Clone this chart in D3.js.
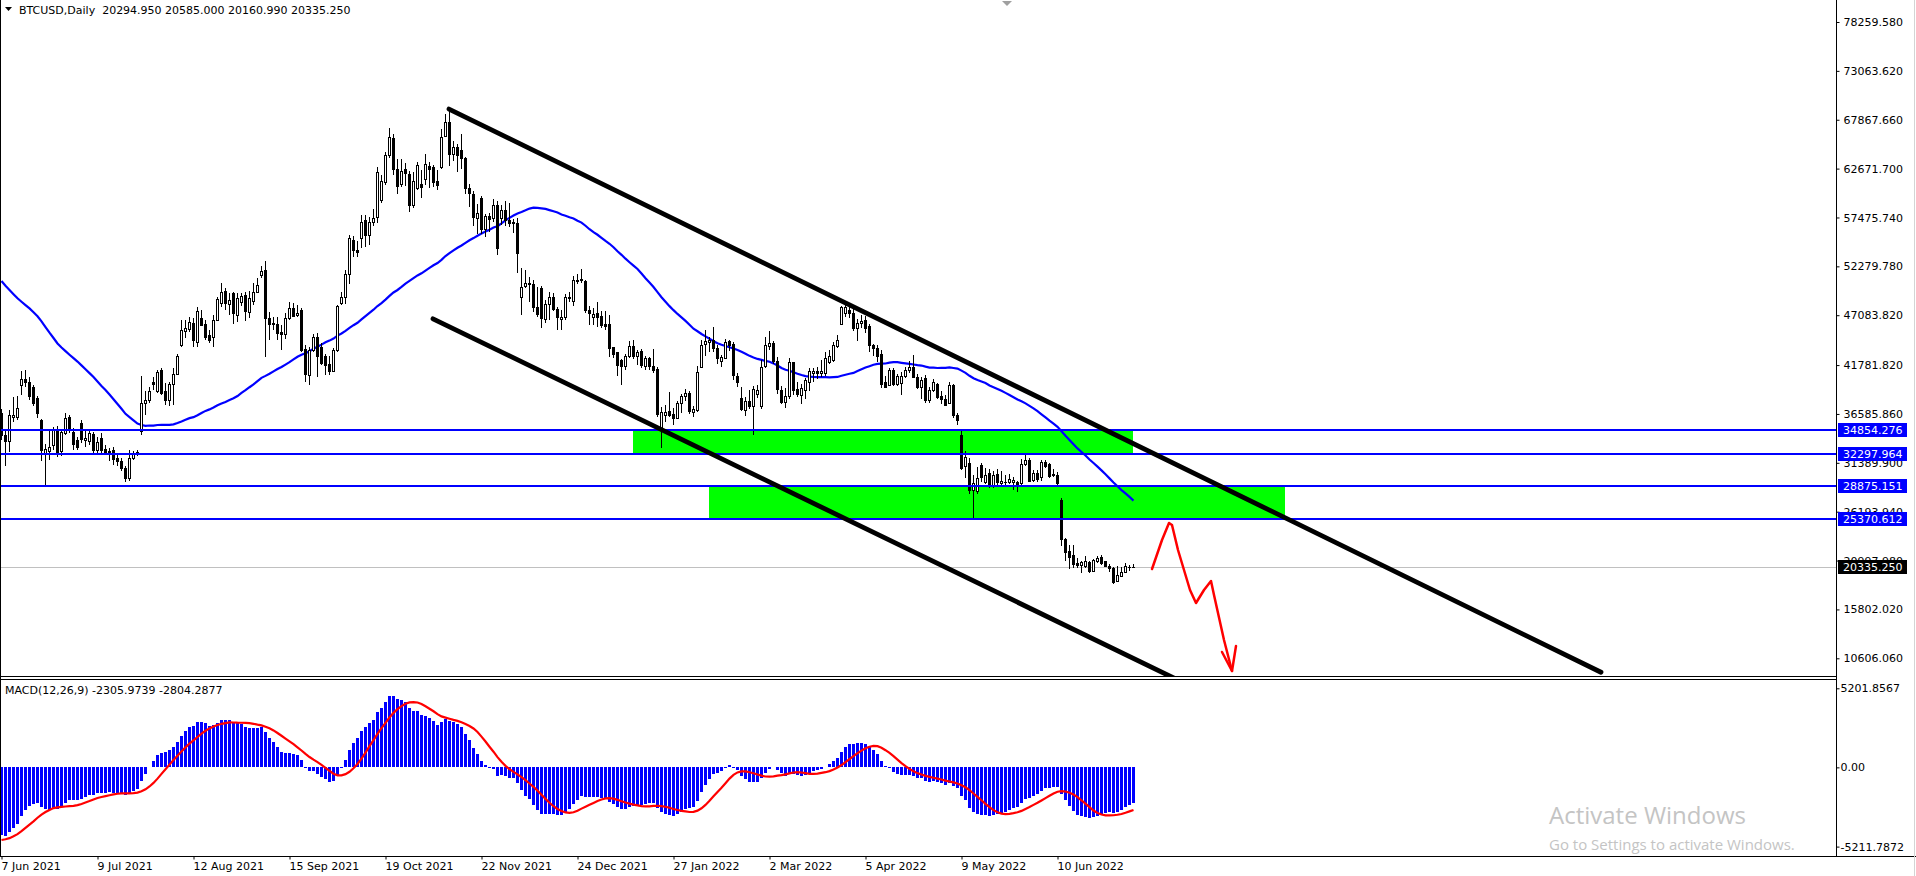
<!DOCTYPE html>
<html>
<head>
<meta charset="utf-8">
<script src="https://cdnjs.cloudflare.com/ajax/libs/d3/7.8.5/d3.min.js"></script>
<style>
  body { margin: 0; background: #fff; }
  svg { display: block; font-family: "DejaVu Sans", sans-serif; font-size: 11px; }
</style>
</head>
<body>
<svg id="chart" width="1916" height="876"></svg>
<script>
// BTCUSD daily (weekday bars), prices in thousands of USD, bar 0 = 7 Jun 2021
const opens = [
  36.7,34.3,33.7,36.3,36.3,39.7,40.3,40.0,39.5,38.3, 35.9,32.4,32.6,33.3,34.8,32.6,34.6,36.3,34.7,33.8,
  35.6,33.8,33.7,34.5,32.8,34.0,32.9,32.5,32.8,31.9, 31.6,30.8,29.8,31.9,32.3,34.8,37.8,38.1,40.0,39.0,
  41.3,39.0,38.1,39.8,40.8,43.9,45.4,45.6,46.3,44.2, 46.8,46.1,45.0,44.8,46.6,48.4,49.7,48.3,49.4,47.1,
  48.5,49.2,47.4,48.6,49.6,51.4,51.9,46.8,46.3,46.1, 45.3,45.1,46.8,47.9,47.1,47.6,43.5,40.7,43.4,44.8,
  43.7,42.7,41.9,41.2,43.4,48.4,49.0,51.5,55.1,54.0, 55.3,57.2,55.6,57.0,57.5,59.3,61.3,64.1,65.9,62.6,
  61.0,62.6,62.1,58.8,60.6,61.0,61.6,62.9,62.8,61.4, 62.8,66.1,67.6,64.2,65.0,64.7,63.8,60.6,60.0,57.4,
  59.5,56.3,57.6,57.4,58.8,57.4,58.3,57.2,57.0,56.9, 49.0,50.2,50.4,50.4,48.0,50.0,46.7,48.3,49.0,47.7,
  46.7,46.9,49.0,48.6,50.8,50.8,50.7,47.6,46.9,47.3, 47.0,46.1,46.1,43.7,43.2,42.3,41.7,42.7,43.8,42.8,
  43.3,41.7,42.5,41.7,41.4,35.1,36.5,36.9,36.6,36.2, 37.7,38.5,38.8,36.8,37.0,41.6,44.0,44.2,44.4,43.6,
  42.2,42.5,44.3,44.0,40.6,38.3,37.0,38.0,37.4,38.7, 37.4,41.7,43.8,44.1,42.2,39.1,37.9,38.5,42.1,39.2,
  38.6,39.1,40.0,40.9,41.2,40.9,40.9,42.1,42.3,43.8, 46.2,47.3,47.6,47.3,45.7,46.3,46.6,45.9,43.9,43.6,
  43.0,40.0,39.7,41.3,39.8,39.9,40.6,41.3,41.6,40.5, 39.5,40.4,38.1,39.1,39.8,38.5,38.2,37.7,39.7,36.5,
  34.3,31.0,31.4,28.5,28.4,31.2,29.3,30.3,29.0,30.2, 29.2,29.3,29.3,29.4,29.4,29.2,31.3,31.7,29.6,30.3,
  29.9,31.5,31.3,30.2,30.1,27.4,23.3,22.0,21.6,20.7, 20.5,20.4,20.8,19.9,20.9,21.4,20.9,20.4,20.2,18.8,
  19.4,19.8,20.3,20.29495
];
const highs = [
  37.1,34.8,37.0,38.4,38.5,41.2,41.3,40.5,39.7,38.5, 36.0,33.4,34.9,35.2,35.3,34.8,36.7,36.5,35.1,34.1,
  35.9,35.0,35.0,34.7,34.1,34.6,33.3,33.0,33.1,32.2, 31.9,31.0,32.8,32.6,32.8,40.6,39.0,39.5,40.5,41.3,
  41.5,39.9,40.0,41.5,43.0,46.6,46.6,46.9,46.8,48.0, 47.6,46.6,45.5,47.1,49.0,50.5,50.0,49.4,49.6,49.4,
  49.4,49.6,49.7,50.5,51.0,52.3,52.9,47.4,46.9,46.9, 46.0,47.3,48.5,48.4,48.2,47.8,43.9,43.7,45.1,45.2,
  44.1,43.0,42.7,43.6,48.2,49.6,51.9,55.6,55.5,55.0, 57.7,57.7,57.5,58.4,62.8,62.0,64.4,67.0,66.4,63.7,
  63.7,63.3,62.4,62.3,63.4,62.5,64.2,63.4,63.1,62.5, 66.9,68.5,69.0,65.6,65.3,66.4,63.9,61.0,60.3,58.9,
  59.8,57.8,57.9,59.4,59.2,58.8,59.2,59.0,57.3,57.4, 52.1,51.9,51.1,50.8,50.1,50.2,48.7,49.5,49.4,48.0,
  47.6,49.3,49.6,51.3,51.5,52.0,50.8,48.1,47.9,48.5, 47.5,47.5,47.1,43.7,43.2,42.4,43.0,44.3,44.4,43.4,
  43.5,42.7,42.6,43.5,41.6,37.3,37.5,38.9,37.2,38.0, 38.7,39.2,39.0,37.4,41.7,44.5,45.5,44.8,45.8,43.9,
  42.9,44.6,44.5,44.2,40.9,39.4,38.4,39.1,39.6,39.7, 42.3,44.8,45.4,44.3,42.6,39.6,39.3,42.5,42.1,40.0,
  39.8,40.4,41.5,41.5,41.6,42.3,43.2,43.4,44.2,45.0, 48.1,48.6,48.1,47.7,46.7,47.1,47.0,46.1,44.0,43.9,
  43.4,40.6,41.5,41.5,40.8,41.0,41.6,42.2,42.9,40.8, 40.5,40.7,39.4,40.3,39.9,39.0,38.6,40.0,39.8,36.7,
  34.8,32.6,31.9,30.1,30.9,31.4,30.8,30.7,30.5,30.7, 30.5,30.1,30.2,29.9,29.5,31.8,32.3,31.9,30.6,30.6,
  31.7,31.7,31.4,30.7,30.4,27.6,23.4,22.6,22.7,21.3, 21.0,21.5,20.9,21.2,21.5,21.6,21.0,20.6,20.3,20.4,
  20.3,20.7,20.5,20.585
];
const lows = [
  33.8,31.0,32.5,35.7,35.9,38.6,39.5,38.1,37.4,36.2, 31.6,28.85,31.7,32.8,32.0,32.1,34.3,34.6,32.8,32.8,
  33.5,33.1,33.3,32.2,32.3,32.4,32.2,31.6,31.2,31.1, 30.5,29.3,29.5,31.7,32.1,34.3,36.5,37.8,39.1,38.8,
  38.6,37.5,37.4,37.5,40.7,43.7,44.7,45.3,43.7,43.7, 45.9,44.4,44.1,43.7,46.5,48.0,47.6,47.1,46.2,46.4,
  48.1,46.5,46.8,48.2,49.4,51.0,42.6,44.4,45.5,44.5, 43.4,44.6,46.6,46.9,46.9,43.2,40.0,39.7,43.2,40.5,
  41.8,40.7,40.7,41.1,43.2,48.2,48.3,50.4,53.3,53.3, 54.2,54.3,54.5,56.6,56.9,59.0,60.9,63.8,62.0,60.0,
  60.7,60.8,58.1,58.5,60.4,59.5,60.9,60.6,60.7,60.4, 62.6,66.0,62.9,63.5,62.3,62.6,60.0,58.6,56.6,55.7,
  55.7,55.4,55.9,57.0,53.5,56.7,56.6,56.5,55.8,51.6, 47.1,50.0,48.5,47.4,46.9,45.7,46.3,46.6,47.5,45.5,
  45.5,46.6,48.5,48.1,50.4,50.5,47.3,46.0,46.0,45.8, 45.7,45.5,42.6,42.5,40.6,39.7,41.3,42.5,42.4,41.8,
  41.5,41.3,41.3,40.9,36.3,33.0,35.7,36.3,35.4,36.1, 36.7,38.0,36.6,36.3,36.8,41.5,42.7,43.2,43.2,41.9,
  41.6,42.5,43.3,40.2,39.5,36.9,36.4,37.1,34.3,38.3, 37.1,41.5,43.4,41.9,38.7,37.6,37.2,38.2,38.6,38.4,
  37.6,38.2,39.0,40.0,40.3,40.5,40.6,41.9,42.1,43.6, 46.0,46.9,46.8,45.4,44.3,45.7,45.2,43.2,42.8,42.1,
  39.3,39.3,39.6,39.6,39.6,38.6,40.4,40.9,40.4,39.2, 38.2,37.8,37.7,38.9,38.2,37.6,37.4,37.6,36.2,35.4,
  30.6,29.8,28.1,25.3,28.1,29.4,29.1,28.7,28.7,28.8, 28.9,28.9,29.1,28.5,28.3,29.0,31.1,29.4,29.4,29.3,
  29.5,30.8,29.8,29.9,28.9,22.5,20.9,20.1,20.2,20.2, 19.7,20.2,19.7,19.8,20.7,20.5,20.3,19.8,18.5,18.7,
  19.2,19.7,19.9,20.16099
];
const closes = [
  34.3,33.7,36.5,36.5,37.2,40.3,40.0,38.5,37.8,36.7, 32.8,32.9,33.1,34.9,32.4,34.7,36.2,34.9,33.4,33.1,
  33.9,34.0,34.6,32.8,33.6,32.8,32.5,32.7,31.8,31.6, 30.8,29.8,31.9,32.3,32.5,37.7,38.1,39.0,39.8,41.0,
  38.8,38.1,39.8,40.8,42.7,45.5,45.7,46.4,44.4,47.5, 46.0,44.8,44.4,46.6,48.8,49.5,48.4,48.7,47.3,48.9,
  49.1,47.5,48.9,49.6,50.3,51.8,46.8,46.2,46.1,45.2, 45.1,46.8,47.9,47.0,47.3,43.4,40.8,43.4,44.8,42.7,
  42.0,41.8,41.2,43.4,48.1,49.0,51.5,55.3,54.0,53.8, 57.0,55.6,57.0,57.4,62.3,61.4,64.1,66.0,62.6,60.8,
  62.4,62.2,58.8,61.4,63.1,60.7,63.2,62.6,61.3,60.9, 66.0,67.6,64.2,65.0,64.1,63.8,60.6,60.1,57.5,58.0,
  56.3,57.6,57.3,58.8,54.2,58.3,57.2,56.9,56.9,53.7, 50.1,50.5,50.5,48.0,47.2,46.8,48.3,49.0,47.7,46.9,
  46.9,49.0,48.9,50.8,50.7,50.9,47.6,47.3,47.2,46.9, 46.0,45.9,43.6,43.0,41.8,41.7,42.7,43.8,42.8,43.2,
  41.8,42.5,41.7,41.3,36.6,36.8,36.8,36.5,36.2,37.8, 38.5,38.8,36.9,37.1,41.0,43.9,44.3,44.4,43.6,42.5,
  42.6,44.2,43.9,40.7,40.0,37.1,38.0,37.4,39.2,39.1, 41.6,43.9,44.1,42.2,39.2,37.9,38.5,42.1,39.1,38.7,
  39.3,40.2,41.1,41.2,40.9,41.2,42.5,42.7,43.9,44.4, 48.0,48.0,47.3,45.7,46.3,46.5,45.7,43.9,43.6,42.7,
  39.8,39.5,41.3,39.8,40.6,40.6,41.3,41.6,40.5,39.5, 40.2,38.1,39.1,40.0,38.4,38.2,37.5,39.7,36.5,35.9,
  30.8,32.0,28.5,29.2,29.8,29.9,30.1,29.0,30.1,29.3, 29.5,29.4,29.7,29.6,28.9,31.3,31.7,29.5,30.3,29.7,
  31.5,31.1,30.0,30.1,29.2,23.3,21.9,21.4,20.6,20.5, 20.8,21.0,19.9,21.1,21.3,20.7,20.4,20.2,18.7,19.5,
  19.8,20.4,20.35,20.33525
];
// closes of the 50 weekdays before bar 0 (29 Mar - 4 Jun 2021), used by the indicators
const earlierCloses = [
  57.6,58.8,58.9,59.0,59.1, 58.7,57.8,56.0,58.0,58.1, 59.8,63.5,62.9,63.2,61.4, 56.2,55.7,53.8,51.7,51.1,
  54.0,55.0,54.9,53.6,57.8, 56.6,53.0,57.4,56.4,57.4, 56.0,56.7,49.2,49.7,49.9, 45.0,43.0,36.7,40.8,37.3,
  38.4,38.0,39.3,38.4,35.7, 37.3,36.7,37.6,39.2,36.9
];

const priceTicks = [78259.58,73063.62,67867.66,62671.70,57475.74,52279.78,47083.82,41781.82,36585.86,31389.90,26193.94,20997.98,15802.02,10606.06];
const macdTicks = [5201.8567, 0, -5211.7872];
const macdTickLabels = ["5201.8567", "0.00", "-5211.7872"];
const dateBars = [0,24,48,72,96,120,144,168,192,216,240,264];
const dateLabels = ["7 Jun 2021","9 Jul 2021","12 Aug 2021","15 Sep 2021","19 Oct 2021","22 Nov 2021","24 Dec 2021","27 Jan 2022","2 Mar 2022","5 Apr 2022","9 May 2022","10 Jun 2022"];

const levels = [34854.276, 32297.964, 28875.151, 25370.612];
const lastPrice = 20335.25;
// zones: [from bar, to bar, upper price, lower price]
const zones = [[158, 283, 34854.276, 32297.964], [177, 321, 28875.151, 25370.612]];
// trend rays: [bar1, price1, bar2, price2]
const trendLines = [[112, 69000, 400, 9125], [108, 46700, 300, 7110]];
// hand drawn red sketch
const sketchBars   = [287.75, 290.25, 292.0, 292.75, 294.25, 297.25, 298.75, 300.75, 302.5, 303.25, 305.75, 307.75];
const sketchPrices = [20103, 23186, 24994, 24781, 22121, 17868, 16486, 17868, 18825, 17336, 12554, 9258];
const arrowBars = [305.25, 307.75, 308.75];
const arrowPrices = [11278, 9258, 11916];

const K = 1000;
const W = 1916, H = 876;
const axisX = 1836;
const mainBottom = 676, macdTop = 679, macdBottom = 856;

const svg = d3.select("#chart");
const x = d3.scaleLinear().domain([0, 264]).range([1, 1057]);
const y = d3.scaleLinear().domain([10606.06, 78259.58]).range([658.3, 22]);
const yM = d3.scaleLinear().domain([-5211.7872, 5201.8567]).range([846.6, 688.3]);

// indicators
const allCloses = earlierCloses.concat(closes).map(v => v * K);
const off = earlierCloses.length;
const ma = closes.map((_, i) => d3.mean(allCloses.slice(off + i - 49, off + i + 1)));
function ema(vals, n) {
  const k = 2 / (n + 1);
  let e;
  return vals.map((v, i) => e = i ? v * k + e * (1 - k) : v);
}
const e12 = ema(allCloses, 12), e26 = ema(allCloses, 26);
const macdAll = allCloses.map((_, j) => e12[j] - e26[j]);
const signalAll = macdAll.map((_, j) => j < 8 ? null : d3.mean(macdAll.slice(j - 8, j + 1)));
const macd = macdAll.slice(off), signal = signalAll.slice(off);

const bars = closes.map((c, i) => ({ i, o: opens[i] * K, h: highs[i] * K, l: lows[i] * K, c: c * K }));

svg.append("rect").attr("width", W).attr("height", H).attr("fill", "#fff");

svg.append("clipPath").attr("id", "mainClip")
  .append("rect").attr("x", 0).attr("y", 0).attr("width", axisX).attr("height", mainBottom);
svg.append("clipPath").attr("id", "macdClip")
  .append("rect").attr("x", 0).attr("y", macdTop).attr("width", axisX).attr("height", macdBottom - macdTop);

const main = svg.append("g").attr("clip-path", "url(#mainClip)");

// green zones
main.selectAll("rect.zone").data(zones).join("rect")
  .attr("x", d => x(d[0])).attr("width", d => x(d[1]) - x(d[0]))
  .attr("y", d => y(d[2])).attr("height", d => y(d[3]) - y(d[2]))
  .attr("fill", "#00ff00");

// current price line
main.append("line")
  .attr("x1", 0).attr("x2", axisX)
  .attr("y1", Math.round(y(lastPrice)) + 0.5).attr("y2", Math.round(y(lastPrice)) + 0.5)
  .attr("stroke", "#c0c0c0").attr("stroke-width", 1);

// moving average
main.append("path").datum(ma)
  .attr("d", d3.line().x((d, i) => x(i) + 0.5).y(d => y(d)))
  .attr("fill", "none").attr("stroke", "#0000ff").attr("stroke-width", 2.2);

// candles
const cg = main.append("g").attr("shape-rendering", "crispEdges");
cg.selectAll("line.wick").data(bars).join("line")
  .attr("x1", d => x(d.i) + 0.5).attr("x2", d => x(d.i) + 0.5)
  .attr("y1", d => y(d.h)).attr("y2", d => y(d.l))
  .attr("stroke", "#000").attr("stroke-width", 1);
cg.selectAll("rect.body").data(bars).join("rect")
  .attr("x", d => x(d.i) - 0.5).attr("width", 2)
  .attr("y", d => Math.round(y(Math.max(d.o, d.c))) + 0.5)
  .attr("height", d => Math.max(0.01, Math.round(y(Math.min(d.o, d.c))) - Math.round(y(Math.max(d.o, d.c)))))
  .attr("fill", d => d.c >= d.o ? "#fff" : "#000")
  .attr("stroke", "#000").attr("stroke-width", 1);

// horizontal levels
main.selectAll("line.level").data(levels).join("line")
  .attr("x1", 0).attr("x2", axisX)
  .attr("y1", d => Math.round(y(d))).attr("y2", d => Math.round(y(d)))
  .attr("stroke", "#0000ff").attr("stroke-width", 2);

// trend rays
main.selectAll("line.trend").data(trendLines).join("line")
  .attr("x1", d => x(d[0])).attr("y1", d => y(d[1]))
  .attr("x2", d => x(d[2])).attr("y2", d => y(d[3]))
  .attr("stroke", "#000").attr("stroke-width", 4.8).attr("stroke-linecap", "round");

// red sketch
const sk = d3.line().x(d => x(d[0])).y(d => y(d[1]));
main.append("path").datum(sketchBars.map((b, i) => [b, sketchPrices[i]]))
  .attr("d", sk).attr("fill", "none").attr("stroke", "#ff0000").attr("stroke-width", 2.5)
  .attr("stroke-linejoin", "round").attr("stroke-linecap", "round");
main.append("path").datum(arrowBars.map((b, i) => [b, arrowPrices[i]]))
  .attr("d", sk).attr("fill", "none").attr("stroke", "#ff0000").attr("stroke-width", 2.5)
  .attr("stroke-linejoin", "round").attr("stroke-linecap", "round");

// MACD panel
const mg = svg.append("g").attr("clip-path", "url(#macdClip)");
mg.append("g").attr("shape-rendering", "crispEdges")
  .selectAll("rect").data(macd).join("rect")
  .attr("x", (d, i) => x(i) - 1).attr("width", 3)
  .attr("y", d => Math.min(yM(d), yM(0))).attr("height", d => Math.abs(yM(d) - yM(0)))
  .attr("fill", "#0000ff");
mg.append("path").datum(signal)
  .attr("d", d3.line().defined(d => d != null).x((d, i) => x(i) + 0.5).y(d => yM(d)))
  .attr("fill", "none").attr("stroke", "#ff0000").attr("stroke-width", 2.2);

// frames
const fr = svg.append("g").attr("stroke", "#000").attr("stroke-width", 1).attr("shape-rendering", "crispEdges");
fr.append("line").attr("x1", 0.5).attr("x2", 0.5).attr("y1", 0).attr("y2", macdBottom);
fr.append("line").attr("x1", axisX + 0.5).attr("x2", axisX + 0.5).attr("y1", 0).attr("y2", macdBottom);
fr.append("line").attr("x1", 0).attr("x2", axisX).attr("y1", mainBottom + 0.5).attr("y2", mainBottom + 0.5);
fr.append("line").attr("x1", 0).attr("x2", axisX).attr("y1", macdTop + 0.5).attr("y2", macdTop + 0.5);
fr.append("line").attr("x1", 0).attr("x2", W).attr("y1", macdBottom + 0.5).attr("y2", macdBottom + 0.5);
svg.append("line").attr("x1", W - 1.5).attr("x2", W - 1.5).attr("y1", 0).attr("y2", H)
  .attr("stroke", "#d4d4d4").attr("stroke-width", 1).attr("shape-rendering", "crispEdges");

// price axis
const pa = svg.append("g").attr("transform", `translate(${axisX + 0.5},0)`)
  .call(d3.axisRight(y).tickValues(priceTicks).tickSize(3).tickPadding(4).tickFormat(d => d.toFixed(3)));
pa.select(".domain").remove();
pa.selectAll("text").attr("font-family", "DejaVu Sans").attr("font-size", 11).attr("fill", "#000");

// MACD axis
const ma2 = svg.append("g").attr("transform", `translate(${axisX + 0.5},0)`)
  .call(d3.axisRight(yM).tickValues(macdTicks).tickSize(3).tickPadding(1).tickFormat((d, i) => macdTickLabels[i]));
ma2.select(".domain").remove();
ma2.selectAll("text").attr("font-family", "DejaVu Sans").attr("font-size", 11).attr("fill", "#000");

// highlighted price labels
function tag(v, fill) {
  const yy = Math.round(y(v));
  svg.append("rect").attr("x", axisX + 2).attr("y", yy - 7).attr("width", 69).attr("height", 14).attr("fill", fill);
  svg.append("text").attr("x", axisX + 7).attr("y", yy).attr("dy", "0.36em")
    .attr("fill", "#fff").text(v.toFixed(3));
}
levels.forEach(v => tag(v, "#0000ff"));
tag(lastPrice, "#000");

// date axis
const da = svg.append("g").attr("transform", `translate(0,${macdBottom + 0.5})`)
  .call(d3.axisBottom(x).tickValues(dateBars).tickSize(3).tickPadding(3).tickFormat((d, i) => dateLabels[i]));
da.select(".domain").remove();
da.selectAll("text").attr("text-anchor", "start").attr("font-family", "DejaVu Sans").attr("font-size", 11).attr("fill", "#000");
da.selectAll(".tick line").attr("transform", "translate(0.5,0)");

// header texts
svg.append("path").attr("d", "M5,7 L12,7 L8.5,11 Z").attr("fill", "#000");
svg.append("text").attr("x", 19).attr("y", 14).attr("fill", "#000")
  .text("BTCUSD,Daily  20294.950 20585.000 20160.990 20335.250").attr("xml:space", "preserve").style("white-space", "pre");
svg.append("text").attr("x", 5).attr("y", 694).attr("fill", "#000")
  .text("MACD(12,26,9) -2305.9739 -2804.2877");

// chart shift marker
svg.append("path").attr("d", "M1002,1 L1012,1 L1007,6 Z").attr("fill", "#a0a0a0");

// windows watermark
svg.append("text").attr("x", 1549).attr("y", 824).attr("fill", "#c4c4c4")
  .attr("font-family", "Open Sans, Noto Sans, sans-serif").attr("font-size", 24).text("Activate Windows");
svg.append("text").attr("x", 1549).attr("y", 850).attr("fill", "#c4c4c4")
  .attr("font-family", "Open Sans, Noto Sans, sans-serif").attr("font-size", 15).text("Go to Settings to activate Windows.");
</script>
</body>
</html>
